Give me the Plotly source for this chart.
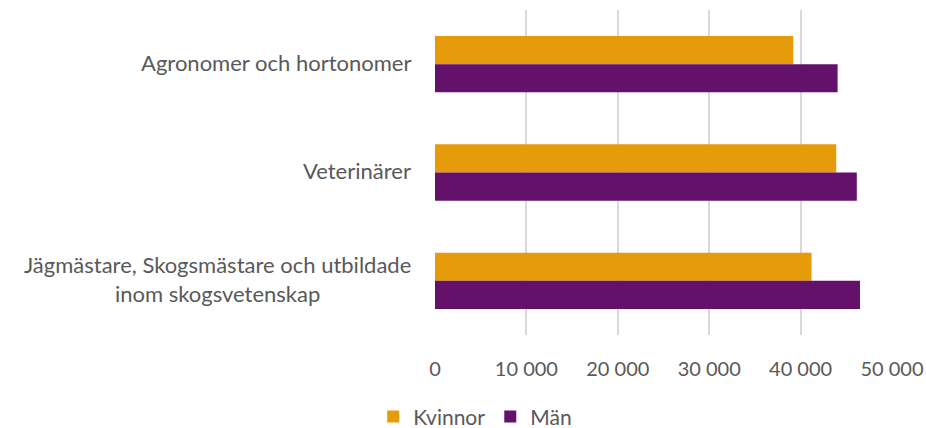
import plotly.graph_objects as go

# Categories (top to bottom) and monthly salary per group
categories = [
    "Agronomer och hortonomer",
    "Veterinärer",
    "Jägmästare, Skogsmästare och utbildade<br>inom skogsvetenskap",
]
kvinnor = [39200, 43900, 41200]
man = [44050, 46150, 46500]
tick_vals = [0, 10000, 20000, 30000, 40000, 50000]
tick_text = ["0", "10 000", "20 000", "30 000", "40 000", "50 000"]

FONT = "Lato"
GREY = "#595959"

fig = go.Figure()
fig.add_trace(go.Bar(y=categories, x=kvinnor, name="Kvinnor", orientation="h",
                     marker=dict(color="#E59B0A", line=dict(width=0))))
fig.add_trace(go.Bar(y=categories, x=man, name="Män", orientation="h",
                     marker=dict(color="#64116B", line=dict(width=0))))

# Category labels as centred multi-line annotations
for cat in categories:
    fig.add_annotation(x=0, xref="paper", y=cat, yref="y", text=cat,
                       showarrow=False, xanchor="right", xshift=-22, yshift=2,
                       align="center", font=dict(family=FONT, size=22, color=GREY))

fig.update_layout(
    width=926, height=428,
    margin=dict(l=435, r=34, t=10, b=93, autoexpand=False),
    paper_bgcolor="white", plot_bgcolor="white",
    barmode="group", bargap=0.48, bargroupgap=0,
    font=dict(family=FONT, size=20, color=GREY),
    legend=dict(orientation="h", x=0.088, xanchor="center", y=-0.252, yanchor="middle",
                font=dict(family=FONT, size=21, color=GREY), traceorder="normal",
                itemwidth=30, tracegroupgap=0),
    showlegend=True,
)
fig.update_xaxes(range=[0, 50000], tickvals=tick_vals, ticktext=tick_text,
                 showgrid=True, gridcolor="#D9D9D9", gridwidth=2,
                 zeroline=False, showline=False, ticks="", ticklabelstandoff=20,
                 automargin=False,
                 tickfont=dict(family=FONT, size=20, color=GREY), fixedrange=True)
fig.update_yaxes(autorange="reversed", showticklabels=False, showgrid=False,
                 zeroline=False, showline=False, ticks="", automargin=False,
                 fixedrange=True)

fig.write_html("out.html")
